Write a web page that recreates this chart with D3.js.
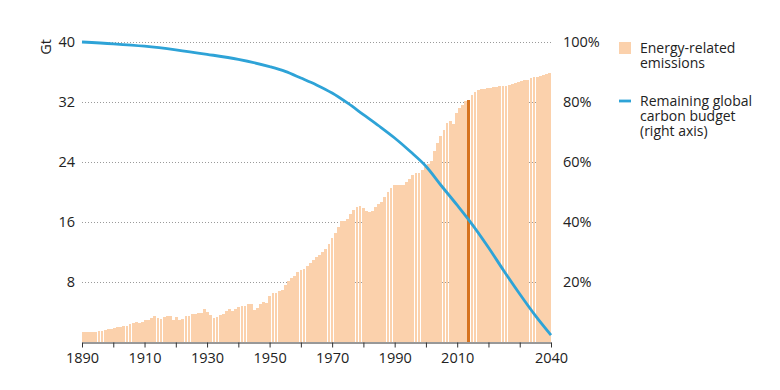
<!DOCTYPE html>
<html>
<head>
<meta charset="utf-8">
<script src="https://cdn.jsdelivr.net/npm/d3@7"></script>
<style>
  body { margin: 0; background: #fff; }
  text { font-family: "Open Sans", sans-serif; fill: #222; }
</style>
</head>
<body>
<script>
const width = 780;
const height = 390;

// energy-related emissions, Gt, one value per year 1890..2040
const firstYear = 1890;
const emissions = [
  1.3, 1.4, 1.4, 1.4, 1.4, 1.5, 1.5, 1.6, 1.7, 1.8,      // 1890s
  1.9, 2.0, 2.0, 2.2, 2.2, 2.4, 2.5, 2.7, 2.6, 2.7,      // 1900s
  2.9, 3.0, 3.2, 3.5, 3.2, 3.1, 3.3, 3.5, 3.5, 2.9,      // 1910s
  3.4, 2.9, 3.1, 3.5, 3.5, 3.7, 3.7, 3.9, 3.9, 4.4,      // 1920s
  4.0, 3.6, 3.2, 3.4, 3.6, 3.8, 4.1, 4.4, 4.2, 4.4,      // 1930s
  4.7, 4.8, 4.8, 5.1, 5.1, 4.3, 4.5, 5.1, 5.4, 5.2,      // 1940s
  6.2, 6.5, 6.6, 6.8, 6.9, 7.6, 8.1, 8.5, 8.8, 9.3,      // 1950s
  9.6, 9.7, 10.1, 10.6, 11.0, 11.3, 11.6, 12.0, 12.4, 13.1, // 1960s
  13.9, 14.5, 15.3, 16.1, 16.2, 16.4, 17.1, 17.6, 18.0, 18.2, // 1970s
  17.9, 17.5, 17.3, 17.5, 18.0, 18.4, 18.7, 19.3, 20.0, 20.6, // 1980s
  20.9, 21.0, 20.9, 21.0, 21.3, 21.8, 22.3, 22.6, 22.6, 22.9, // 1990s
  23.4, 23.7, 24.2, 25.5, 26.6, 27.5, 28.3, 29.2, 29.5, 29.1, // 2000s
  30.5, 31.2, 31.6, 32.1, 32.3, 32.9, 33.4, 33.6, 33.7, 33.8, // 2010s
  33.9, 33.9, 34.0, 34.0, 34.1, 34.1, 34.2, 34.3, 34.4, 34.5, // 2020s
  34.7, 34.8, 34.9, 35.0, 35.2, 35.3, 35.4, 35.5, 35.6, 35.7, // 2030s
  35.9                                                       // 2040
];
const years = emissions.map((d, i) => firstYear + i);
const highlightYear = 2014;

// remaining global carbon budget, % (right axis)
const budgetYears = [1890, 1900, 1910, 1920, 1930, 1940, 1950, 1955, 1960, 1965, 1970, 1975,
  1980, 1985, 1990, 1995, 2000, 2005, 2010, 2014, 2020, 2025, 2030, 2035, 2040];
const budgetPct = [100, 99.4, 98.6, 97.4, 95.9, 94.2, 91.8, 90.2, 88, 85.7, 83, 79.6,
  75.8, 72, 68, 63.5, 58.6, 52, 45.6, 40.3, 31.5, 23.6, 16, 8.8, 2.3];

const xTicks = [1890, 1900, 1910, 1920, 1930, 1940, 1950, 1960, 1970, 1980, 1990, 2000, 2010, 2020, 2030, 2040];
const xLabels = [1890, 1910, 1930, 1950, 1970, 1990, 2010, 2040];
const leftTicks = [8, 16, 24, 32, 40];
const rightTicks = [20, 40, 60, 80, 100];

const svg = d3.select("body").append("svg")
  .attr("width", width)
  .attr("height", height);

const x = d3.scaleLinear().domain([1890, 2040]).range([82, 551]);
const xBand = d3.scaleBand().domain(years).range([82, 551]).paddingInner(0.1);
const yLeft = d3.scaleLinear().domain([0, 40]).range([342, 42]);
const yRight = d3.scaleLinear().domain([0, 100]).range([342, 42]);

// dotted gridlines
svg.append("g")
  .selectAll("line")
  .data(leftTicks)
  .enter()
  .append("line")
  .attr("x1", 82)
  .attr("x2", 553)
  .attr("y1", d => yLeft(d) + 0.5)
  .attr("y2", d => yLeft(d) + 0.5)
  .style("stroke", "#9a9a9a")
  .style("stroke-width", 1)
  .style("stroke-dasharray", "1,2");

// bars
svg.append("g")
  .selectAll("rect")
  .data(years)
  .enter()
  .append("rect")
  .attr("x", d => xBand(d))
  .attr("width", xBand.bandwidth())
  .attr("y", (d, i) => yLeft(emissions[i]))
  .attr("height", (d, i) => yLeft(0) - yLeft(emissions[i]))
  .attr("shape-rendering", "crispEdges")
  .style("fill", d => d === highlightYear ? "#d6721e" : "#fbd1ac");

// x axis
const xAxis = svg.append("g")
  .attr("transform", `translate(0,${yLeft(0) + 0.5})`)
  .call(d3.axisBottom(x)
    .tickValues(xTicks)
    .tickSize(5)
    .tickSizeOuter(0)
    .tickPadding(5)
    .tickFormat(d => xLabels.includes(d) ? d : ""));
xAxis.select(".domain").style("stroke", "#333");
xAxis.selectAll(".tick line").style("stroke", "#333");
xAxis.selectAll("text").style("font-size", "14.5px").style("fill", "#222");

// left axis
const leftAxis = svg.append("g")
  .attr("transform", "translate(82,0)")
  .call(d3.axisLeft(yLeft).tickValues(leftTicks).tickSize(0).tickPadding(7));
leftAxis.select(".domain").remove();
leftAxis.selectAll("text").style("font-size", "14.5px").style("fill", "#222");

// right axis
const rightAxis = svg.append("g")
  .attr("transform", "translate(553,0)")
  .call(d3.axisRight(yRight).tickValues(rightTicks).tickSize(0).tickPadding(10)
    .tickFormat(d => d + "%"));
rightAxis.select(".domain").remove();
rightAxis.selectAll("text").style("font-size", "14.5px").style("fill", "#222");

// unit label
svg.append("text")
  .attr("transform", "translate(51,47) rotate(-90)")
  .attr("text-anchor", "middle")
  .style("font-size", "14.5px")
  .text("Gt");

// budget line
const line = d3.line()
  .x((d, i) => x(budgetYears[i]))
  .y(d => yRight(d))
  .curve(d3.curveMonotoneX);

svg.append("path")
  .datum(budgetPct)
  .attr("d", line)
  .style("fill", "none")
  .style("stroke", "#2ea3d7")
  .style("stroke-width", 2.8);

// legend
const legend = svg.append("g");
legend.append("rect")
  .attr("x", 619).attr("y", 42)
  .attr("width", 12).attr("height", 12)
  .style("fill", "#fbd1ac");
legend.append("line")
  .attr("x1", 619).attr("x2", 631)
  .attr("y1", 101).attr("y2", 101)
  .style("stroke", "#2ea3d7")
  .style("stroke-width", 2.8);

const legendItems = [
  { lines: ["Energy-related", "emissions"], y: 53 },
  { lines: ["Remaining global", "carbon budget", "(right axis)"], y: 106 }
];
legend.selectAll("text")
  .data(legendItems)
  .enter()
  .append("text")
  .attr("x", 640)
  .attr("y", d => d.y)
  .style("font-size", "14px")
  .selectAll("tspan")
  .data(d => d.lines)
  .enter()
  .append("tspan")
  .attr("x", 640)
  .attr("dy", (d, i) => i === 0 ? 0 : 15)
  .text(d => d);
</script>
</body>
</html>
